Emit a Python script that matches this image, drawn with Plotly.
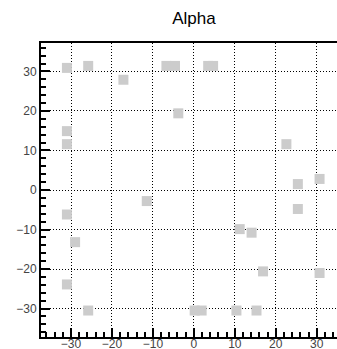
import plotly.graph_objects as go

# Data
x_vals = [-31.0, -25.8, -17.2, -6.7, -4.6, 3.5, 4.7, -3.8,
          -31.0, -31.0, 22.6, 25.4, 30.7, 25.4, -11.5, -31.0,
          11.2, 14.1, -29.0, 16.9, 30.7, -31.0, -25.8, 0.2, 1.9, 10.4, 15.3]
y_vals = [30.9, 31.4, 27.9, 31.4, 31.4, 31.4, 31.4, 19.4,
          14.9, 11.6, 11.6, 1.5, 2.8, -4.8, -2.8, -6.2,
          -9.9, -10.8, -13.2, -20.6, -21.0, -23.9, -30.5, -30.5, -30.5, -30.5, -30.5]
title_text = "Alpha"
tick_vals = [-30, -20, -10, 0, 10, 20, 30]

fig = go.Figure()
fig.add_trace(go.Scatter(
    x=x_vals, y=y_vals, mode="markers",
    marker=dict(symbol="square", size=10, color="#cccccc", line=dict(width=0)),
    showlegend=False, hoverinfo="skip",
))

axis_common = dict(
    showline=True, linecolor="black", linewidth=2,
    ticks="inside", ticklen=9, tickwidth=1.5, tickcolor="black",
    tickvals=tick_vals,
    showgrid=True, gridcolor="black", gridwidth=1, griddash="1px,2px",
    zeroline=False,
    tickfont=dict(family="Liberation Sans, Arial, sans-serif", size=12, color="#444444"),
    minor=dict(dtick=2, ticks="inside", ticklen=5, tickwidth=1.5, tickcolor="black", showgrid=False),
    automargin=False,
)

fig.update_layout(
    width=337, height=349,
    margin=dict(l=41, r=0, t=43, b=12),
    paper_bgcolor="white", plot_bgcolor="white",
    title=dict(text=title_text, xref="container", yref="container",
               x=194 / 337, y=1 - 18.5 / 349, xanchor="center", yanchor="middle",
               font=dict(family="Liberation Sans, Arial, sans-serif", size=17, color="black")),
    xaxis=dict(range=[-37.33, 34.96], mirror=True, ticklabelstandoff=-5, **axis_common),
    yaxis=dict(range=[-37.2, 37.2], **axis_common),
)

fig.write_html("out.html")
